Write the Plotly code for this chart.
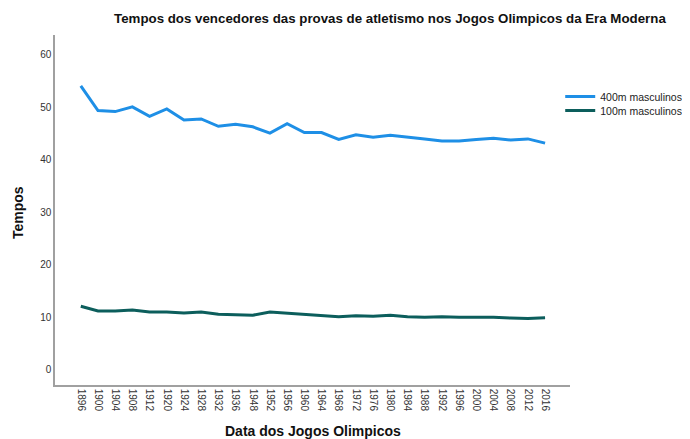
import plotly.graph_objects as go

years = ["1896", "1900", "1904", "1908", "1912", "1920", "1924", "1928", "1932", "1936",
         "1948", "1952", "1956", "1960", "1964", "1968", "1972", "1976", "1980", "1984",
         "1988", "1992", "1996", "2000", "2004", "2008", "2012", "2016"]
m400 = [54.1, 49.4, 49.2, 50.1, 48.3, 49.7, 47.6, 47.8, 46.4, 46.8,
        46.3, 45.1, 46.9, 45.2, 45.2, 43.9, 44.8, 44.3, 44.7, 44.4,
        44.0, 43.6, 43.6, 43.9, 44.1, 43.8, 44.0, 43.2]
m100 = [12.1, 11.2, 11.2, 11.4, 11.0, 11.0, 10.8, 11.0, 10.6, 10.5,
        10.4, 11.0, 10.8, 10.6, 10.3, 10.1, 10.3, 10.2, 10.4, 10.1,
        10.0, 10.1, 10.0, 10.0, 10.0, 9.85, 9.75, 9.9]

fig = go.Figure()
fig.add_trace(go.Scatter(x=years, y=m400, mode="lines", name="400m masculinos",
                         line=dict(color="#1E8FE6", width=3), legend="legend"))
fig.add_trace(go.Scatter(x=years, y=m100, mode="lines", name="100m masculinos",
                         line=dict(color="#0C5E5C", width=3), legend="legend2"))

leg_common = dict(xanchor="left", yanchor="top", font=dict(size=10.5, color="#222222"),
                  itemwidth=30, bgcolor="rgba(0,0,0,0)")

fig.update_layout(
    width=682, height=431,
    margin=dict(l=47, r=120, t=27, b=54, autoexpand=False),
    paper_bgcolor="white", plot_bgcolor="white",
    font=dict(family="Liberation Sans, Arial, sans-serif", color="#333333"),
    title=dict(text="<b>Tempos dos vencedores das provas de atletismo nos Jogos Olimpicos da Era Moderna</b>",
               x=0.56, xanchor="center", y=0.977, yanchor="middle",
               font=dict(size=13.3, color="#111111")),
    legend=dict(x=0.981, y=0.866, **leg_common),
    legend2=dict(x=0.981, y=0.826, **leg_common),
    showlegend=True,
    annotations=[
        dict(text="<b>Tempos</b>", xref="paper", yref="paper", x=-0.072, y=0.494,
             xanchor="center", yanchor="middle", textangle=-90, showarrow=False,
             font=dict(size=14, color="#111111")),
        dict(text="<b>Data dos Jogos Olimpicos</b>", xref="paper", yref="paper", x=0.5, y=-0.131,
             xanchor="center", yanchor="middle", showarrow=False,
             font=dict(size=14, color="#111111")),
    ],
)
fig.update_xaxes(type="category", categoryorder="array", categoryarray=years,
                 range=[-1.5, 28.45], tickangle=90, showgrid=False,
                 showline=True, linecolor="#A0A0A0", linewidth=1.5,
                 ticks="", tickfont=dict(size=10, color="#333333"),
                 automargin=False, zeroline=False)
fig.update_yaxes(range=[-2.9, 63.8], tickvals=[0, 10, 20, 30, 40, 50, 60],
                 showgrid=False, showline=True, linecolor="#A0A0A0", linewidth=1.5,
                 ticks="", tickfont=dict(size=10, color="#333333"),
                 automargin=False, zeroline=False)

fig.write_html("out.html")
